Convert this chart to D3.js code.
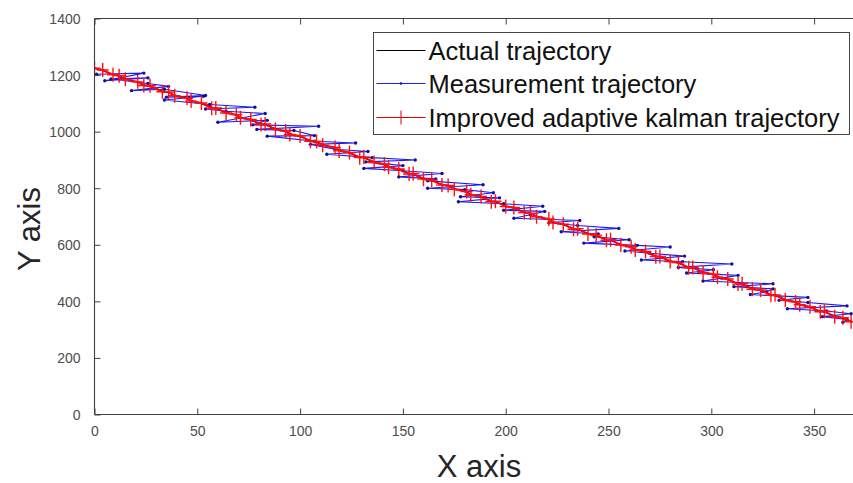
<!DOCTYPE html>
<html>
<head>
<meta charset="utf-8">
<script src="https://cdn.jsdelivr.net/npm/d3@7"></script>
<style>
  body { margin: 0; background: #fff; }
  svg { display: block; font-family: "Liberation Sans", Arial, sans-serif; }
</style>
</head>
<body>
<div id="chart"></div>
<script>
"use strict";

//-> data
var actualX = [0, 370];
var actualY = [1225, 325];

var measX = [1, 24, 5, 26, 8, 26, 36, 18, 34, 54,
             35, 53, 34, 56, 78, 54, 64, 83, 60, 84,
             77, 109, 79, 97, 107, 84, 107, 127, 105, 117,
             133, 113, 135, 156, 132, 150, 131, 150, 169, 148,
             166, 162, 189, 162, 180, 194, 178, 197, 177, 199,
             218, 199, 219, 212, 204, 236, 221, 235, 255, 227,
             245, 243, 260, 238, 264, 280, 258, 270, 287, 266,
             286, 310, 284, 301, 288, 313, 305, 296, 330, 311,
             330, 327, 319, 347, 333, 347, 366, 337, 356, 368,
             354, 366, 364];
var measY = [1203, 1207, 1180, 1190, 1186, 1170, 1160, 1145, 1150, 1128,
             1122, 1125, 1112, 1096, 1086, 1080, 1072, 1064, 1033, 1040,
             1024, 1019, 1008, 1004, 986, 984, 966, 960, 955, 938,
             930, 920, 908, 900, 893, 880, 870, 862, 852, 840,
             833, 826, 812, 800, 795, 784, 770, 766, 752, 745,
             736, 722, 718, 706, 694, 686, 678, 668, 658, 646,
             638, 628, 618, 606, 598, 592, 578, 570, 560, 546,
             540, 532, 520, 512, 500, 492, 482, 472, 462, 452,
             444, 434, 424, 414, 404, 396, 384, 374, 366, 356,
             346, 336, 326];

var kalX = [0, 4, 9, 12, 15, 21, 24, 27, 33, 36,
            39, 45, 47, 52, 57, 59, 64, 69, 71, 76,
            81, 83, 88, 93, 95, 100, 105, 108, 111, 117,
            119, 124, 129, 131, 136, 141, 143, 148, 153, 155,
            160, 164, 169, 172, 175, 181, 183, 188, 193, 195,
            200, 204, 209, 212, 215, 221, 223, 228, 233, 235,
            240, 244, 249, 251, 256, 261, 263, 268, 273, 275,
            280, 284, 289, 291, 296, 301, 303, 308, 313, 315,
            320, 324, 329, 331, 336, 341, 343, 348, 353, 355,
            360, 364, 368];
var kalY = [1224, 1218, 1201, 1198, 1185, 1176, 1163, 1162, 1141, 1140,
            1127, 1118, 1108, 1101, 1083, 1084, 1066, 1060, 1049, 1043,
            1025, 1027, 1008, 1002, 990, 985, 966, 965, 952, 944,
            932, 926, 908, 910, 891, 885, 874, 868, 850, 852,
            832, 829, 811, 810, 796, 788, 777, 771, 752, 754,
            735, 732, 714, 712, 699, 691, 679, 673, 655, 657,
            638, 634, 616, 618, 599, 593, 582, 576, 558, 559,
            541, 537, 519, 520, 502, 496, 485, 479, 461, 462,
            443, 440, 422, 423, 405, 398, 388, 381, 363, 365,
            346, 342, 328];

var xTicks = [0, 50, 100, 150, 200, 250, 300, 350];
var yTicks = [0, 200, 400, 600, 800, 1000, 1200, 1400];
var legendNames = ["Actual trajectory", "Measurement trajectory", "Improved adaptive kalman trajectory"];

// -> dimensions
var width = 853,
    height = 483,
    margin = {top: 18.5, left: 94.5, bottom: 68.5},
    axisColor = "#404040",
    tickColor = "#4d4d4d";

var x = d3.scaleLinear().domain([0, 400]).range([margin.left, margin.left + 2.056 * 400]);
var y = d3.scaleLinear().domain([0, 1400]).range([height - margin.bottom, margin.top]);

var svg = d3.select("#chart").append("svg")
    .attr("width", width)
    .attr("height", height);

svg.append("defs").append("clipPath")
    .attr("id", "plotClip")
    .append("rect")
    .attr("x", margin.left)
    .attr("y", margin.top)
    .attr("width", width - margin.left)
    .attr("height", y(0) - margin.top);

var line = d3.line()
    .x(function(d) { return x(d[0]); })
    .y(function(d) { return y(d[1]); });

var actual = actualX.map(function(v, i) { return [v, actualY[i]]; }),
    meas = measX.map(function(v, i) { return [v, measY[i]]; }),
    kal = kalX.map(function(v, i) { return [v, kalY[i]]; });

var plot = svg.append("g").attr("clip-path", "url(#plotClip)");

//-> actual trajectory
plot.append("path")
    .datum(actual)
    .attr("fill", "none")
    .attr("stroke", "#000")
    .attr("stroke-width", 1)
    .attr("d", line);

//-> measurement trajectory
plot.append("path")
    .datum(meas)
    .attr("fill", "none")
    .attr("stroke", "#1a1aee")
    .attr("stroke-width", 1.1)
    .attr("d", line);

plot.selectAll(".measDot")
    .data(meas)
    .enter().append("circle")
    .attr("class", "measDot")
    .attr("cx", function(d) { return x(d[0]); })
    .attr("cy", function(d) { return y(d[1]); })
    .attr("r", 1.7)
    .attr("fill", "#10109a");

//-> improved adaptive kalman trajectory
plot.append("path")
    .datum(kal)
    .attr("fill", "none")
    .attr("stroke", "#ff0000")
    .attr("stroke-width", 2)
    .attr("d", line);

plot.selectAll(".kalMark")
    .data(kal)
    .enter().append("path")
    .attr("class", "kalMark")
    .attr("transform", function(d) { return "translate(" + x(d[0]) + "," + y(d[1]) + ")"; })
    .attr("d", "M-6,0H6M0,-7V7")
    .attr("stroke", "#ff1010")
    .attr("stroke-width", 1.4)
    .attr("fill", "none");

//-> axes (box style, ticks inside)
var bottomAxis = svg.append("g")
    .attr("transform", "translate(0," + y(0) + ")")
    .call(d3.axisBottom(x).tickValues(xTicks).tickSizeInner(-6).tickSizeOuter(0).tickPadding(12));

var topAxis = svg.append("g")
    .attr("transform", "translate(0," + margin.top + ")")
    .call(d3.axisTop(x).tickValues(xTicks).tickSizeInner(-6).tickSizeOuter(0).tickFormat(""));

var leftAxis = svg.append("g")
    .attr("transform", "translate(" + margin.left + ",0)")
    .call(d3.axisLeft(y).tickValues(yTicks).tickFormat(d3.format("d")).tickSizeInner(-6).tickSizeOuter(0).tickPadding(14));

[bottomAxis, topAxis, leftAxis].forEach(function(g) {
    g.select(".domain").attr("stroke", axisColor).attr("stroke-width", 1.1);
    g.selectAll(".tick line").attr("stroke", axisColor);
    g.selectAll(".tick text")
        .attr("fill", tickColor)
        .style("font-size", "14px")
        .style("font-family", "Liberation Sans, Arial, sans-serif");
});
// top and bottom lines run off the right edge of the picture
topAxis.select(".domain").attr("d", "M" + margin.left + ",0H" + width);
bottomAxis.select(".domain").attr("d", "M" + margin.left + ",0H" + width);
leftAxis.select(".domain").attr("d", "M0," + margin.top + "V" + y(0));
leftAxis.selectAll(".tick text").attr("dy", "0.36em");

//-> axis titles
svg.append("text")
    .attr("x", 479)
    .attr("y", 477)
    .attr("text-anchor", "middle")
    .attr("fill", "#262626")
    .style("font-size", "31px")
    .text("X axis");

svg.append("text")
    .attr("text-anchor", "middle")
    .attr("transform", "translate(40,229)rotate(-90)")
    .attr("fill", "#262626")
    .style("font-size", "31px")
    .text("Y axis");

//-> legend
var legend = svg.append("g").attr("transform", "translate(373.5,32.5)");
legend.append("rect")
    .attr("width", 476)
    .attr("height", 102)
    .attr("fill", "#fff")
    .attr("stroke", "#333")
    .attr("stroke-width", 0.9);

var rowY = [18, 51, 85];
var rows = legend.selectAll(".row")
    .data(legendNames)
    .enter().append("g")
    .attr("class", "row")
    .attr("transform", function(d, i) { return "translate(0," + rowY[i] + ")"; });

rows.append("line")
    .attr("x1", 3).attr("x2", 52)
    .attr("stroke", function(d, i) { return ["#000", "#1f1fe6", "#e00000"][i]; })
    .attr("stroke-width", 1);

rows.filter(function(d, i) { return i === 1; })
    .append("circle").attr("cx", 27.5).attr("r", 1.3).attr("fill", "#10109a");
rows.filter(function(d, i) { return i === 2; })
    .append("path").attr("d", "M27.5,-7V7").attr("stroke", "#e00000").attr("stroke-width", 1);

rows.append("text")
    .attr("x", 55)
    .attr("dy", "0.36em")
    .attr("fill", "#111")
    .style("font-size", "25.5px")
    .text(function(d) { return d; });
</script>
</body>
</html>
